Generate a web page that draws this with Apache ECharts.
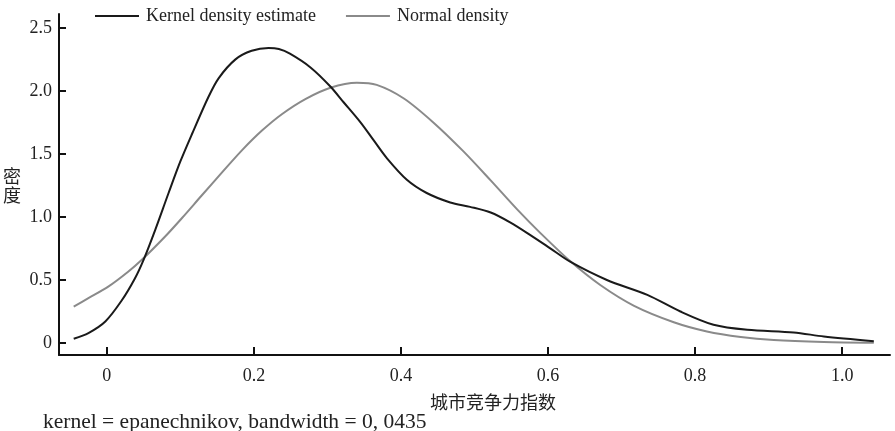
<!DOCTYPE html>
<html>
<head>
<meta charset="utf-8">
<script src="https://cdn.jsdelivr.net/npm/echarts@6/dist/echarts.min.js"></script>
<style>
html,body{margin:0;padding:0;background:#fff;}
#chart{width:895px;height:431px;}
</style>
</head>
<body>
<div id="chart"></div>
<script>
// ---- data ----
var seriesNames = ['Kernel density estimate', 'Normal density'];
var xTicks = [0, 0.2, 0.4, 0.6, 0.8, 1.0];
var yTicks = [0, 0.5, 1.0, 1.5, 2.0, 2.5];
var xAxisName = '城市竞争力指数';
var yAxisName = '密度';
var footnote = 'kernel = epanechnikov, bandwidth = 0, 0435';

var kdeX = [-0.045, -0.025, -0.002, 0.020, 0.038, 0.050, 0.066, 0.084, 0.100, 0.116, 0.138, 0.152, 0.175, 0.197, 0.220, 0.234, 0.249, 0.277, 0.304, 0.322, 0.345, 0.363, 0.381, 0.408, 0.435, 0.467, 0.494, 0.522, 0.549, 0.576, 0.603, 0.630, 0.680, 0.735, 0.780, 0.825, 0.871, 0.934, 0.975, 1.043];
var kdeY = [0.034, 0.079, 0.171, 0.335, 0.510, 0.660, 0.900, 1.190, 1.440, 1.660, 1.950, 2.100, 2.250, 2.318, 2.340, 2.332, 2.295, 2.186, 2.035, 1.910, 1.750, 1.607, 1.465, 1.295, 1.190, 1.115, 1.080, 1.035, 0.955, 0.856, 0.751, 0.645, 0.500, 0.382, 0.250, 0.145, 0.105, 0.084, 0.052, 0.015];

var normX = [-0.045, -0.025, 0.002, 0.029, 0.048, 0.079, 0.102, 0.129, 0.157, 0.184, 0.211, 0.238, 0.270, 0.304, 0.340, 0.367, 0.404, 0.444, 0.485, 0.522, 0.558, 0.590, 0.630, 0.671, 0.717, 0.771, 0.816, 0.862, 0.907, 0.975, 1.043];
var normY = [0.289, 0.356, 0.447, 0.565, 0.662, 0.843, 0.990, 1.170, 1.355, 1.530, 1.685, 1.815, 1.935, 2.025, 2.065, 2.048, 1.940, 1.750, 1.520, 1.290, 1.060, 0.870, 0.650, 0.460, 0.295, 0.165, 0.092, 0.048, 0.024, 0.009, 0.003];

function zip(xs, ys) { return xs.map(function (x, i) { return [x, ys[i]]; }); }
function fmt(v) { return Math.abs(v) < 1e-9 ? '0' : v.toFixed(1); }

var serif = '"Liberation Serif", "Times New Roman", serif';
var cjk = '"Noto Sans CJK SC", sans-serif';

var chart = echarts.init(document.getElementById('chart'), null, {renderer: 'canvas'});
chart.setOption({
  animation: false,
  backgroundColor: '#fff',
  grid: {left: 59, right: 5, top: 14, bottom: 76, containLabel: false},
  legend: {
    left: 90, top: 2,
    icon: 'rect', itemWidth: 44, itemHeight: 2, itemGap: 30,
    textStyle: {fontFamily: serif, fontSize: 18, color: '#222', padding: [0, 0, 0, 2]},
    data: seriesNames
  },
  xAxis: {
    type: 'value', min: -0.065, max: 1.065,
    axisLine: {onZero: false, lineStyle: {color: '#111', width: 2}},
    axisTick: {inside: true, length: 8, customValues: xTicks, lineStyle: {color: '#111', width: 2}},
    axisLabel: {customValues: xTicks, formatter: fmt, margin: 12, fontFamily: serif, fontSize: 18, color: '#222'},
    splitLine: {show: false}
  },
  yAxis: {
    type: 'value', min: -0.095, max: 2.61,
    axisLine: {show: true, onZero: false, lineStyle: {color: '#111', width: 2}},
    axisTick: {show: true, inside: true, length: 7, customValues: yTicks, lineStyle: {color: '#111', width: 2}},
    axisLabel: {customValues: yTicks, formatter: fmt, margin: 7, fontFamily: serif, fontSize: 18, color: '#222'},
    splitLine: {show: false}
  },
  graphic: [
    {type: 'text', left: 430, top: 393, style: {text: xAxisName, font: '18px ' + cjk, fill: '#222'}},
    {type: 'text', left: 3, top: 167, style: {text: yAxisName.split('').join('\n'), font: '18px ' + cjk, fill: '#222', lineHeight: 19}},
    {type: 'text', left: 43, top: 411, style: {text: footnote, font: '21.5px ' + serif, fill: '#222'}}
  ],
  series: [
    {name: seriesNames[0], type: 'line', smooth: 0.3, showSymbol: false, symbol: 'none',
     lineStyle: {color: '#1a1a1a', width: 2}, itemStyle: {color: '#1a1a1a'}, data: zip(kdeX, kdeY), z: 3},
    {name: seriesNames[1], type: 'line', smooth: 0.3, showSymbol: false, symbol: 'none',
     lineStyle: {color: '#8a8a8a', width: 2}, itemStyle: {color: '#8a8a8a'}, data: zip(normX, normY), z: 2}
  ]
});
</script>
</body>
</html>
